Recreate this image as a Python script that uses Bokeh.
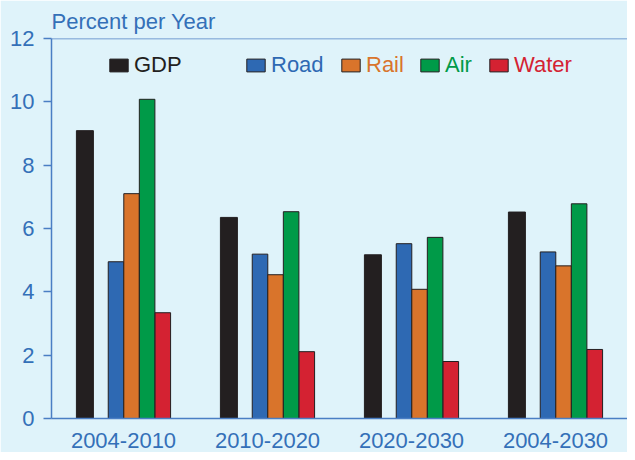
from bokeh.plotting import figure
from bokeh.models import (ColumnDataSource, FactorRange, Range1d, FixedTicker,
                          Legend, LegendItem, Span)
from bokeh.transform import dodge
from bokeh.embed import file_html
from bokeh.resources import INLINE

periods = ["2004-2010", "2010-2020", "2020-2030", "2004-2030"]
gdp = [9.09, 6.35, 5.17, 6.52]
road = [4.95, 5.19, 5.52, 5.26]
rail = [7.10, 4.54, 4.08, 4.82]
air = [10.08, 6.53, 5.72, 6.78]
water = [3.34, 2.11, 1.80, 2.18]
y_ticks = [0, 2, 4, 6, 8, 10, 12]

BG = "#DFF3FA"
BLUE = "#3470B8"
AXIS = "#4A7EC4"
EDGE = "#231F20"
FONT = "Liberation Sans"

src = ColumnDataSource(dict(period=periods, GDP=gdp, Road=road, Rail=rail,
                            Air=air, Water=water))

p = figure(width=627, height=452, x_range=FactorRange(factors=periods),
           y_range=Range1d(0, 12), output_backend="svg", toolbar_location=None,
           min_border_left=51, min_border_right=0, min_border_top=38,
           min_border_bottom=34)
p.background_fill_color = BG
p.border_fill_color = BG
p.outline_line_color = None
p.grid.visible = False

p.title.text = "Percent per Year"
p.title.text_font = FONT
p.title.text_font_size = "22px"
p.title.text_font_style = "normal"
p.title.text_color = BLUE
p.title.align = "left"
p.title.standoff = 9

series = [
    ("GDP", -0.268, 0.118, "#231F20", "#231F20", 56),
    ("Road", -0.052, 0.108, "#2E69B3", "#2E69B3", 193),
    ("Rail", 0.056, 0.108, "#D9742B", "#D9742B", 288),
    ("Air", 0.164, 0.108, "#009A48", "#009A48", 367),
    ("Water", 0.273, 0.108, "#D42232", "#D42232", 436),
]

for name, off, w, col, tcol, lx in series:
    r = p.vbar(x=dodge("period", off, range=p.x_range), top=name, width=w,
               source=src, fill_color=col, line_color=EDGE, line_width=1)
    leg = Legend(items=[LegendItem(label=name, renderers=[r])],
                 location=(lx, 340), orientation="horizontal",
                 background_fill_alpha=0, border_line_color=None,
                 padding=0, margin=0, spacing=0,
                 glyph_width=23, glyph_height=16, label_standoff=4,
                 label_text_font=FONT, label_text_font_size="22px",
                 label_text_color=tcol)
    p.add_layout(leg)

p.add_layout(Span(location=12, dimension="width", line_color=AXIS,
                  line_width=1.5))

p.yaxis.ticker = FixedTicker(ticks=y_ticks)
p.yaxis.minor_tick_line_color = None
p.yaxis.major_tick_in = 0
p.yaxis.major_tick_out = 8
p.yaxis.major_label_standoff = 9
for ax in (p.xaxis, p.yaxis):
    ax.axis_line_color = AXIS
    ax.axis_line_width = 1.5
    ax.major_tick_line_color = AXIS
    ax.major_tick_line_width = 1.5
    ax.major_label_text_font = FONT
    ax.major_label_text_font_size = "22px"
    ax.major_label_text_color = BLUE
p.xaxis.major_tick_line_color = None
p.xaxis.major_tick_out = 0
p.xaxis.major_label_standoff = 14

open("out.html", "w").write(file_html(p, INLINE))
